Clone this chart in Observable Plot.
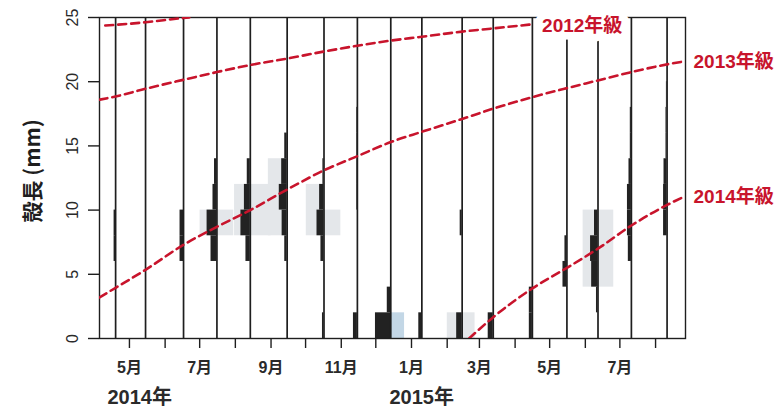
<!DOCTYPE html>
<html><head><meta charset="utf-8">
<script src="https://cdn.jsdelivr.net/npm/d3@7"></script>
<script src="https://cdn.jsdelivr.net/npm/@observablehq/plot@0.6"></script>
<style>
body{margin:0;background:#fff}
svg{font-family:"Liberation Sans","Noto Sans CJK JP",sans-serif}
</style>
</head><body><div id="chart"></div>
<script>
// ---------- data ----------
const sampleDates = ["2014-04-19","2014-05-15","2014-06-17","2014-07-16","2014-08-14","2014-09-15",
  "2014-10-17","2014-11-15","2014-12-14","2015-01-10","2015-02-14","2015-03-13",
  "2015-04-16","2015-05-16","2015-06-12","2015-07-11","2015-08-11"];
const binEdges = [0,2,4,6,8,10,12,14,16,18,20];
// frequency (%) per 2 mm bin, one row per sampling date
const blackFreq = [
  [0,0,0,7,7,0,0,0,0,0],
  [0,0,0,0,0,0,0,0,0,0],
  [0,0,0,16,16,0,0,0,0,0],
  [0,0,0,27,45,18,11,0,0,0],
  [0,0,0,20,43,27,14,0,0,0],
  [0,0,0,11,23,36,25,11,0,0],
  [7,0,0,14,32,20,5,0,0,0],
  [18,0,0,0,0,3,3,3,3,0],
  [70,16,0,0,0,0,0,0,0,0],
  [14,0,0,0,0,0,0,0,0,0],
  [25,0,0,0,9,0,0,0,0,0],
  [23,0,0,0,0,0,0,0,0,0],
  [14,14,0,0,0,0,0,0,0,0],
  [0,0,18,9,0,0,0,0,0,0],
  [0,7,29,34,16,0,0,0,0,0],
  [0,0,0,14,18,18,11,5,5,0],
  [0,0,0,0,16,16,14,5,5,3]
];
// faint (pale) histogram blocks: date, lo mm, hi mm, % left, % right
const paleBars = [
  ["2014-07-16",8,10,77,77],
  ["2014-08-14",8,12,72,95],
  ["2014-09-15",8,14,86,0],
  ["2014-10-17",8,12,81,0],
  ["2014-10-17",8,10,0,77],
  ["2015-02-14",0,2,68,59],
  ["2015-06-12",4,10,68,72]
];
const blueBars = [["2014-12-14",0,2,0,63]];

// growth curves (shell length, mm)
const curve2011 = [["2014-04-10",24.38],["2014-04-19",24.43],["2014-05-15",24.63],["2014-06-17",24.96],["2014-06-22",25]];
const curve2012 = [["2014-04-05",18.6],["2014-04-19",18.85],["2014-05-15",19.45],["2014-06-17",20.15],["2014-07-16",20.75],
  ["2014-08-14",21.3],["2014-09-15",21.8],["2014-10-17",22.35],["2014-11-15",22.8],["2014-12-14",23.2],["2015-01-10",23.5],
  ["2015-02-14",23.9],["2015-03-13",24.15],["2015-04-14",24.45]];
const curve2013 = [["2014-04-05",3.2],["2014-04-19",3.95],["2014-05-15",5.35],["2014-06-17",7.3],["2014-07-16",8.7],
  ["2014-08-14",10.0],["2014-09-15",11.6],["2014-10-17",13.1],["2014-11-15",14.2],["2014-12-14",15.3],["2015-01-10",16.1],
  ["2015-02-14",17.1],["2015-03-13",17.9],["2015-04-16",18.8],["2015-05-16",19.5],["2015-06-12",20.1],["2015-07-11",20.75],
  ["2015-08-11",21.35],["2015-08-27",21.6]];
const curve2014 = [["2015-02-20",0],["2015-03-13",1.66],["2015-04-16",3.9],["2015-05-16",5.5],["2015-06-12",7.0],
  ["2015-07-11",8.8],["2015-08-11",10.4],["2015-08-27",11.1]];
const classLabels = ["2012年級","2013年級","2014年級"];

const yTicks = [0,5,10,15,20,25];
const monthTicks = ["2014-05-01","2014-06-01","2014-07-01","2014-08-01","2014-09-01","2014-10-01","2014-11-01",
  "2014-12-01","2015-01-01","2015-02-01","2015-03-01","2015-04-01","2015-05-01","2015-06-01","2015-07-01","2015-08-01"];
const monthLabelDates = ["2014-05-01","2014-07-01","2014-09-01","2014-11-01","2015-01-01","2015-03-01","2015-05-01","2015-07-01"];
const monthLabels = ["5月","7月","9月","11月","1月","3月","5月","7月"];
const yearLabelDates = ["2014-05-01","2015-01-01"];
const yearLabels = ["2014年","2015年"];
const yTitle = "殻長 (mm)";

// ---------- build ----------
const DAY = 864e5;
const DAYS_PER_PCT = 0.19;
const parse = s => new Date(s + "T00:00:00Z");
const RED = "#c8142c";
const INK = "#1e1e1e";

const blackRows = [];
sampleDates.forEach((d, i) => blackFreq[i].forEach((f, j) => {
  if (f > 0) blackRows.push({x1: new Date(+parse(d) - f * DAYS_PER_PCT * DAY), x2: parse(d), y1: binEdges[j], y2: binEdges[j + 1]});
}));
const toPale = rows => rows.map(([d, lo, hi, l, r]) => ({
  x1: new Date(+parse(d) - l * DAYS_PER_PCT * DAY), x2: new Date(+parse(d) + r * DAYS_PER_PCT * DAY), y1: lo, y2: hi}));
const paleRows = toPale(paleBars);
const blueRows = toPale(blueBars);

const curveRows = [];
[["2011", curve2011], ["2012", curve2012], ["2013", curve2013], ["2014", curve2014]].forEach(([c, arr]) =>
  arr.forEach(([d, v]) => curveRows.push({date: parse(d), mm: v, cls: c})));
const endOf = arr => ({date: parse(arr[arr.length - 1][0]), mm: arr[arr.length - 1][1]});
const lab2012 = [{...endOf(curve2012), text: classLabels[0]}];
const labOthers = [{...endOf(curve2013), text: classLabels[1]}, {...endOf(curve2014), text: classLabels[2]}];

const chart = Plot.plot({
  width: 782, height: 409,
  marginLeft: 99, marginRight: 97, marginTop: 17, marginBottom: 71,
  x: {type: "utc", domain: [parse("2014-04-05"), parse("2015-08-27")]},
  y: {domain: [0, 25]},
  style: {background: "#fff", overflow: "visible"},
  marks: [
    Plot.rect(paleRows, {x1: "x1", x2: "x2", y1: "y1", y2: "y2", fill: "#e4e7ea"}),
    Plot.rect(blueRows, {x1: "x1", x2: "x2", y1: "y1", y2: "y2", fill: "#c3d7e6"}),
    Plot.rect(blackRows, {x1: "x1", x2: "x2", y1: "y1", y2: "y2", fill: "#222"}),
    Plot.ruleX(sampleDates.map(parse), {y1: 0, y2: 25, stroke: INK, strokeWidth: 1.7}),
    Plot.frame({stroke: INK, strokeWidth: 1.4}),
    Plot.axisY({ticks: yTicks, tickSize: 11, tickFormat: () => "", label: null, stroke: INK, strokeWidth: 1.4}),
    Plot.axisX({ticks: monthTicks.map(parse), tickSize: 10, tickFormat: () => "", label: null, stroke: INK, strokeWidth: 1.4}),
    Plot.text(yTicks, {y: d => d, text: d => String(d), frameAnchor: "left", dx: -27, rotate: -90,
      textAnchor: "middle", fontSize: 16, fill: "#2a2a2a"}),
    Plot.text([yTitle], {frameAnchor: "left", dx: -66, dy: -7, rotate: -90, textAnchor: "middle",
      fontSize: 21, fontWeight: "bold", fill: INK, fontFamily: "Noto Sans CJK JP"}),
    Plot.text(monthLabelDates.map(parse), {x: d => d, text: (d, i) => monthLabels[i], frameAnchor: "bottom", dy: 34,
      textAnchor: "middle", fontSize: 16, fontWeight: "bold", fill: "#2a2a2a", ariaLabel: "mlab"}),
    Plot.text(yearLabelDates.map(parse), {x: d => d, text: (d, i) => yearLabels[i], frameAnchor: "bottom", dy: 65,
      dx: -22, textAnchor: "start", fontSize: 20, fontWeight: "bold", fill: "#2a2a2a", ariaLabel: "ylab"}),
    Plot.line(curveRows, {x: "date", y: "mm", z: "cls", stroke: RED, strokeWidth: 2.6, strokeDasharray: "8,5",
      curve: "monotone-x", clip: true}),
    Plot.text(lab2012, {x: "date", y: "mm", text: "text", textAnchor: "start", dx: 12, dy: 1, fill: RED,
      stroke: "white", strokeWidth: 15, fontSize: 19, fontWeight: "bold", ariaLabel: "clab"}),
    Plot.text(labOthers, {x: "date", y: "mm", text: "text", textAnchor: "start", dx: 8, dy: 1, fill: RED,
      fontSize: 19, fontWeight: "bold", ariaLabel: "clab"})
  ]
});

function splitSuffix(label, size) {
  d3.select(chart).selectAll(`g[aria-label="${label}"] text`).each(function () {
    const m = this.textContent.match(/^(\d+)(\D+)$/);
    if (!m) return;
    const t = d3.select(this);
    t.text(null);
    t.append("tspan").text(m[1]);
    t.append("tspan").attr("font-size", size).text(m[2]);
  });
}
splitSuffix("mlab", 11);
splitSuffix("ylab", 15);
splitSuffix("clab", 13);
document.getElementById("chart").append(chart);
</script></body></html>
